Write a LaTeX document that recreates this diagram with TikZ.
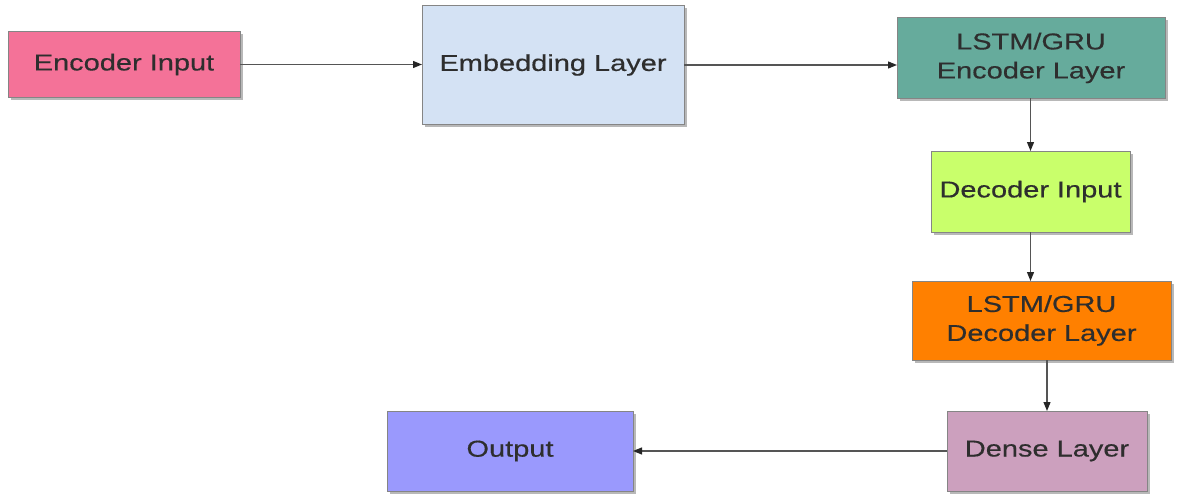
\documentclass[tikz,border=0pt]{standalone}
\usepackage{fontspec}
\setmainfont[FakeStretch=1.26,FakeBold=0.4]{Liberation Sans}
\usetikzlibrary{arrows.meta,shadows}
\definecolor{cEncIn}{HTML}{F47298}
\definecolor{cEmb}{HTML}{D4E2F4}
\definecolor{cEncL}{HTML}{66AB9C}
\definecolor{cDecIn}{HTML}{C9FF6B}
\definecolor{cDecL}{HTML}{FF8000}
\definecolor{cDense}{HTML}{CCA0BE}
\definecolor{cOut}{HTML}{9A99FD}
\definecolor{cBorder}{HTML}{858585}
\definecolor{cText}{HTML}{2E2E2E}
\definecolor{cLine}{HTML}{555555}
\tikzset{
  box/.style={draw=cBorder, line width=1pt, inner sep=0pt, outer sep=0pt,
    align=center, text=cText, font=\fontsize{23}{29}\selectfont,
    drop shadow={shadow xshift=2.5pt, shadow yshift=-2.5pt, fill=black, opacity=0.28}},
  conn/.style={draw=cLine, line width=1.2pt,
    -{Triangle[length=9pt,width=7pt,color=black!85]}}
}
\begin{document}
\begin{tikzpicture}[x=1pt,y=-1pt]
\useasboundingbox (0,0) rectangle (1180,495);
\node[box, fill=cEncIn, minimum width=232pt, minimum height=65pt] (encin) at (124,64.5) {Encoder Input};
\node[box, fill=cEmb, minimum width=262pt, minimum height=118pt] (emb) at (553,65) {Embedding Layer};
\node[box, fill=cEncL, minimum width=268pt, minimum height=80pt] (encl) at (1031,58) {LSTM/GRU\\Encoder Layer};
\node[box, fill=cDecIn, minimum width=199pt, minimum height=81pt] (decin) at (1030.5,191.5) {Decoder Input};
\node[box, fill=cDecL, minimum width=259pt, minimum height=79pt] (decl) at (1041.5,320.5) {LSTM/GRU\\Decoder Layer};
\node[box, fill=cDense, minimum width=200pt, minimum height=80pt] (dense) at (1047,451) {Dense Layer};
\node[box, fill=cOut, minimum width=246pt, minimum height=80pt] (out) at (510,451) {Output};

\draw[conn] (encin.east) -- (emb.west |- encin.east);
\draw[conn] (emb.east) -- (encl.west |- emb.east);
\draw[conn] (encl.south -| decin.north) -- (decin.north);
\draw[conn] (decin.south) -- (decin.south |- decl.north);
\draw[conn] (decl.south -| dense.north) -- (dense.north);
\draw[conn] (dense.west) -- (out.east);
\end{tikzpicture}
\end{document}
